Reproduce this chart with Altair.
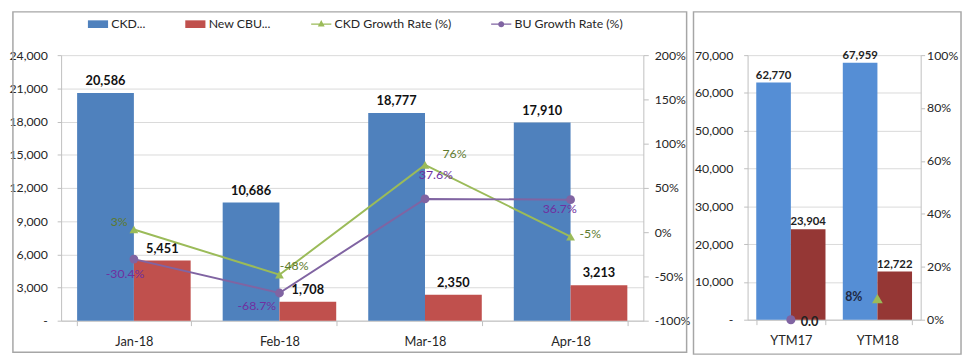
import altair as alt
import pandas as pd

# ---------------- data ----------------
months = ["Jan-18", "Feb-18", "Mar-18", "Apr-18"]
ckd_units = [20586, 10686, 18777, 17910]
cbu_units = [5451, 1708, 2350, 3213]
ckd_growth = [0.03, -0.48, 0.76, -0.05]
bu_growth = [-0.304, -0.687, 0.376, 0.367]
ckd_growth_labels = ["3%", "-48%", "76%", "-5%"]
bu_growth_labels = ["-30.4%", "-68.7%", "37.6%", "36.7%"]

ytm_periods = ["YTM17", "YTM18"]
ytm_ckd = [62770, 67959]
ytm_cbu = [23904, 12722]
ytm_bu_growth = [0.0]          # shown at YTM17
ytm_bu_growth_labels = ["0.0"]
ytm_ckd_growth = [0.08]        # shown at YTM18
ytm_ckd_growth_labels = ["8%"]

series_names = ["CKD...", "New CBU...", "CKD Growth Rate (%)", "BU Growth Rate (%)"]
bar_series = series_names[:2]

# ---------------- style ----------------
FONT = "Lato"
TXT = "#262626"
AX = "#BFBFBF"
GRID = "#D9D9D9"
BLUE, RED, GREEN, PURPLE = "#4F81BD", "#C0504D", "#9BBB59", "#8064A2"
BLUE2, RED2 = "#558ED5", "#953735"
GREEN_TXT, PURPLE_TXT = "#5E7A2E", "#7030A0"
MINUS = "\u2212"

RECT = "M-1,-0.38H1V0.38H-1Z"
TRI = "M-1,-0.07H1V0.07H-1Z M0,-0.42L0.34,0.22L-0.34,0.22Z"
CIRC = "M-1,-0.07H1V0.07H-1Z M0.3,0A0.3,0.3,0,1,1,-0.3,0A0.3,0.3,0,1,1,0.3,0Z"

# ---------------- left panel ----------------
bar_df = pd.DataFrame({
    "month": months * 2,
    "series": [bar_series[0]] * len(months) + [bar_series[1]] * len(months),
    "value": ckd_units + cbu_units,
})
line_df = pd.DataFrame({
    "month": months * 2,
    "series": [series_names[2]] * len(months) + [series_names[3]] * len(months),
    "rate": ckd_growth + bu_growth,
    "label": ckd_growth_labels + bu_growth_labels,
})

x_left = alt.X(
    "month:N", sort=months,
    scale=alt.Scale(domain=months, paddingInner=0.22, paddingOuter=0.11),
    axis=alt.Axis(title=None, labelAngle=0, labelFontSize=13, labelPadding=10,
                  domainColor=AX, tickColor=AX, tickSize=5, tickBand="extent"),
)
xoff_left = alt.XOffset("series:N", scale=alt.Scale(domain=bar_series, paddingInner=0, paddingOuter=0))
y_left = alt.Y(
    "value:Q",
    scale=alt.Scale(domain=[0, 24000], nice=False),
    axis=alt.Axis(title=None, values=list(range(0, 24001, 3000)),
                  labelExpr="datum.value == 0 ? '-' : format(datum.value, ',')",
                  grid=True, gridColor=GRID, domainColor=AX, tickColor=AX, tickSize=4,
                  labelPadding=10, labelFontSize=12.5, minExtent=49, maxExtent=49),
)
y_rate = alt.Y(
    "rate:Q",
    scale=alt.Scale(domain=[-1, 2], nice=False, zero=False),
    axis=alt.Axis(title=None, orient="right", values=[-1, -0.5, 0, 0.5, 1, 1.5, 2],
                  labelExpr=f"replace(format(datum.value, '.0%'), '{MINUS}', '-')",
                  grid=False, domainColor=AX, tickColor=AX, tickSize=5, labelPadding=6,
                  labelFontSize=12.5),
)

base_bar = alt.Chart(bar_df).encode(x=x_left, xOffset=xoff_left, y=y_left)
bars = []
for s, c in zip(bar_series, [BLUE, RED]):
    f = base_bar.transform_filter(alt.datum.series == s)
    bars.append(f.mark_bar(color=c))
    bars.append(f.mark_text(dy=-12, font=FONT, fontSize=13, fontWeight="bold", color="#111111")
                .encode(text=alt.Text("value:Q", format=",")))

border_df = pd.DataFrame({"k": [0]})
border_left = alt.Chart(border_df).mark_rect(filled=False, stroke="#A6A6A6", strokeWidth=1.5).encode(
    x=alt.value(-49), x2=alt.value(636), y=alt.value(-44), y2=alt.value(302))

bar_group = alt.layer(border_left, *bars)

base_line = alt.Chart(line_df).encode(x=x_left, y=y_rate)
lines = []
for s, c, shp in [(series_names[2], GREEN, "triangle-up"), (series_names[3], PURPLE, "circle")]:
    f = base_line.transform_filter(alt.datum.series == s)
    lines.append(f.mark_line(color=c, strokeWidth=2))
    lines.append(f.mark_point(shape=shp, filled=True, size=80, color=c, opacity=1))

# label offsets (style) for each point
green_off = {"Jan-18": (-15, -8), "Feb-18": (15, -9), "Mar-18": (30, -11), "Apr-18": (20, -3)}
purple_off = {"Jan-18": (-9, 15), "Feb-18": (-23, 13), "Mar-18": (11, -24), "Apr-18": (-11, 10)}
labels = []
for s, offs, col, wt in [(series_names[2], green_off, GREEN_TXT, "normal"),
                         (series_names[3], purple_off, PURPLE_TXT, "normal")]:
    for m in months:
        dx, dy = offs[m]
        labels.append(
            base_line.transform_filter((alt.datum.series == s) & (alt.datum.month == m))
            .mark_text(dx=dx, dy=dy, font=FONT, fontSize=12.5, color=col, fontWeight=wt)
            .encode(text="label:N"))

leg = alt.Legend(title=None, orient="none", legendX=27, legendY=-42, direction="horizontal",
                 columns=4, columnPadding=40, symbolSize=420, labelFontSize=12.5, labelFont=FONT,
                 labelColor=TXT, labelOffset=3, symbolStrokeWidth=0, padding=0, labelLimit=300,
                 symbolOpacity=1)
legend_layer = alt.Chart(pd.DataFrame({"series": series_names})).transform_filter("false").mark_point(
    filled=True, opacity=1).encode(
    color=alt.Color("series:N", scale=alt.Scale(domain=series_names, range=[BLUE, RED, GREEN, PURPLE]), legend=leg),
    shape=alt.Shape("series:N", scale=alt.Scale(domain=series_names, range=[RECT, RECT, TRI, CIRC]), legend=leg),
)

line_group = alt.layer(*lines, *labels, legend_layer)

left = alt.layer(bar_group, line_group).resolve_scale(y="independent").properties(width=592, height=270)

# ---------------- right panel ----------------
ytm_bar_df = pd.DataFrame({
    "period": ytm_periods * 2,
    "group": [bar_series[0]] * 2 + [bar_series[1]] * 2,
    "value": ytm_ckd + ytm_cbu,
})
ytm_pt_df = pd.DataFrame({
    "period": ["YTM17", "YTM18"],
    "series": [series_names[3], series_names[2]],
    "rate": ytm_bu_growth + ytm_ckd_growth,
    "label": ytm_bu_growth_labels + ytm_ckd_growth_labels,
})

x_right = alt.X(
    "period:N", sort=ytm_periods,
    scale=alt.Scale(domain=ytm_periods, paddingInner=0.2, paddingOuter=0.1),
    axis=alt.Axis(title=None, labelAngle=0, labelFontSize=13, labelPadding=10,
                  domainColor=AX, tickColor=AX, tickSize=5, tickBand="extent"),
)
xoff_right = alt.XOffset("group:N", scale=alt.Scale(domain=bar_series, paddingInner=0, paddingOuter=0))
y_right = alt.Y(
    "value:Q",
    scale=alt.Scale(domain=[0, 70000], nice=False),
    axis=alt.Axis(title=None, values=list(range(0, 70001, 10000)),
                  labelExpr="datum.value == 0 ? '-' : format(datum.value, ',')",
                  grid=True, gridColor=GRID, domainColor=AX, tickColor=AX, tickSize=4,
                  labelPadding=11, labelFontSize=12.5),
)
y_right_rate = alt.Y(
    "rate:Q",
    scale=alt.Scale(domain=[0, 1], nice=False),
    axis=alt.Axis(title=None, orient="right", values=[0, 0.2, 0.4, 0.6, 0.8, 1.0], format=".0%",
                  grid=False, domainColor=AX, tickColor=AX, tickSize=4, labelPadding=2,
                  labelFontSize=12.5),
)

rbase = alt.Chart(ytm_bar_df).encode(x=x_right, xOffset=xoff_right, y=y_right)
rbars = []
for s, c in zip(bar_series, [BLUE2, RED2]):
    f = rbase.transform_filter(alt.datum.group == s)
    rbars.append(f.mark_bar(color=c))
    rbars.append(f.mark_text(dy=-7, font=FONT, fontSize=11.5, fontWeight="bold", color="#222222")
                 .encode(text=alt.Text("value:Q", format=",")))

border_right = alt.Chart(border_df).mark_rect(filled=False, stroke="#A6A6A6", strokeWidth=1.5).encode(
    x=alt.value(-55), x2=alt.value(217), y=alt.value(-44), y2=alt.value(304))

rpt = alt.Chart(ytm_pt_df).encode(x=x_right, y=y_right_rate)
rpoints = [
    rpt.transform_filter(alt.datum.series == series_names[3]).mark_point(
        shape="circle", filled=True, size=85, color=PURPLE, opacity=1),
    rpt.transform_filter(alt.datum.series == series_names[2]).mark_point(
        shape="triangle-up", filled=True, size=120, color=GREEN, opacity=1),
    rpt.transform_filter(alt.datum.series == series_names[3]).mark_text(
        dx=19, dy=2, font=FONT, fontSize=13, fontWeight="bold", color="#222222").encode(text="label:N"),
    rpt.transform_filter(alt.datum.series == series_names[2]).mark_text(
        dx=-24, dy=-1, font=FONT, fontSize=12.5, fontWeight="bold", color="#1F2A44").encode(text="label:N"),
]

right = alt.layer(alt.layer(border_right, *rbars), alt.layer(*rpoints)).resolve_scale(
    y="independent").properties(width=176, height=269)

chart = alt.hconcat(left, right, spacing=2).resolve_scale(
    xOffset="independent"
).properties(
    padding={"left": 0, "top": 0, "right": 0, "bottom": 0}
).configure_view(strokeWidth=0).configure_axis(
    labelFont=FONT, labelColor=TXT
)

chart.save("out.html", embed_options={"renderer": "svg", "actions": False})
